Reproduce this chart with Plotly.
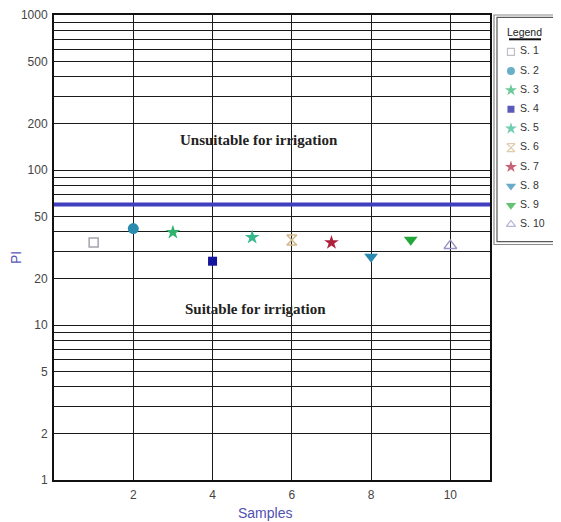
import plotly.graph_objects as go

# ---------------- data ----------------
samples = [1, 2, 3, 4, 5, 6, 7, 8, 9, 10]
sample_names = ["S. 1", "S. 2", "S. 3", "S. 4", "S. 5", "S. 6", "S. 7", "S. 8", "S. 9", "S. 10"]
pi_values = [34.1, 41.9, 39.6, 25.8, 36.8, 35.3, 34.0, 27.6, 35.5, 32.5]
threshold_pi = 60

y_tick_vals = [1, 2, 3, 4, 5, 6, 7, 8, 9,
               10, 20, 30, 40, 50, 60, 70, 80, 90,
               100, 200, 300, 400, 500, 600, 700, 800, 900, 1000]
y_tick_labels = ["1", "2", "", "", "5", "", "", "", "",
                 "10", "20", "", "", "50", "", "", "", "",
                 "100", "200", "", "", "500", "", "", "", "", "1000"]
x_tick_vals = [2, 4, 6, 8, 10]
x_tick_labels = ["2", "4", "6", "8", "10"]

# ---------------- styles ----------------
symbols = ["square-open", "circle", "star", "square", "star",
           "hourglass-open", "star", "triangle-down", "triangle-down", "triangle-up-open"]
colors = ["#a4a4ac", "#2a8db0", "#2fb36c", "#14149e", "#38b88e",
          "#d2b88a", "#b0203c", "#2a88b0", "#22a83a", "#9a94c4"]
sizes = [9, 11, 11, 9, 11, 10, 11, 12, 12, 11]
legend_sizes = [7, 8, 9, 7, 9, 8, 9, 9, 9, 8]

FONT = "Arial, Liberation Sans, sans-serif"
SERIF = "Liberation Serif, Times New Roman, serif"

# page has an 8px body margin: build the figure 8px smaller and shift margins
OFF = 8
W, H = 561 - OFF, 522 - OFF
ML, MT, MB = 54 - OFF, 15 - OFF, 42
PLOT_R = 490            # page px of the right plot border
PW = W - ML             # paper width (right margin 0) -> page 54..561
PH = H - MT - MB        # paper height -> page 15..480


def px_x(p):
    """page pixel x -> paper x"""
    return (p - 54) / PW


def px_y(p):
    """page pixel y -> paper y"""
    return (480 - p) / PH


fig = go.Figure()

for i, s in enumerate(samples):
    fig.add_trace(go.Scatter(
        x=[s], y=[pi_values[i]], mode="markers", name=sample_names[i],
        showlegend=False,
        marker=dict(symbol=symbols[i], color=colors[i], size=sizes[i],
                    line=dict(color=colors[i], width=1.5 if "open" in symbols[i] else 0)),
        xaxis="x", yaxis="y",
    ))

# legend (glyphs + names), drawn on its own small axes
fig.add_trace(go.Scatter(
    x=[0.23] * len(samples), y=samples, mode="markers", showlegend=False,
    marker=dict(symbol=symbols, color=colors, size=legend_sizes,
                line=dict(color=colors, width=[1.2 if "open" in s else 0 for s in symbols])),
    xaxis="x2", yaxis="y2", hoverinfo="skip",
))
fig.add_trace(go.Scatter(
    x=[0.38] * len(samples), y=samples, mode="text", text=sample_names,
    textposition="middle right", showlegend=False,
    textfont=dict(family=FONT, size=10.5, color="#333333"),
    xaxis="x2", yaxis="y2", hoverinfo="skip",
))

shapes = [
    # threshold line
    dict(type="line", xref="x domain", yref="y", x0=0, x1=1,
         y0=threshold_pi, y1=threshold_pi, line=dict(color="#3f3fc0", width=4)),
    # legend outer / inner frame
    dict(type="rect", xref="paper", yref="paper",
         x0=px_x(494), x1=px_x(560.3), y0=px_y(244.5), y1=px_y(15),
         line=dict(color="#8a8a8a", width=1.2)),
    dict(type="rect", xref="paper", yref="paper",
         x0=px_x(497), x1=px_x(557.7), y0=px_y(241.7), y1=px_y(17.3),
         line=dict(color="#5a5a5a", width=1.2)),
    # legend title underline
    dict(type="line", xref="paper", yref="paper",
         x0=px_x(509), x1=px_x(541), y0=px_y(39.3), y1=px_y(39.3),
         line=dict(color="#111111", width=2)),
]

annotations = [
    dict(text="<b>Unsuitable for irrigation</b>", x=5.18, y=2.194, xref="x", yref="y",
         showarrow=False, xanchor="center", yanchor="middle",
         font=dict(family=SERIF, size=15, color="#222222")),
    dict(text="<b>Suitable for irrigation</b>", x=5.08, y=1.103, xref="x", yref="y",
         showarrow=False, xanchor="center", yanchor="middle",
         font=dict(family=SERIF, size=15, color="#222222")),
    dict(text="Legend", x=px_x(524.5), y=px_y(31.5), xref="paper", yref="paper",
         showarrow=False, xanchor="center", yanchor="middle",
         font=dict(family=FONT, size=10.5, color="#222222")),
    dict(text="PI", x=px_x(16), y=px_y(258), xref="paper", yref="paper",
         showarrow=False, textangle=-90, xanchor="center", yanchor="middle",
         font=dict(family=FONT, size=14, color="#5a5ab8")),
    dict(text="Samples", x=px_x(265), y=px_y(512.7), xref="paper", yref="paper",
         showarrow=False, xanchor="center", yanchor="middle",
         font=dict(family=FONT, size=14, color="#5050b0")),
]

fig.update_layout(
    width=W, height=H,
    margin=dict(l=ML, r=0, t=MT, b=MB, autoexpand=False),
    paper_bgcolor="white", plot_bgcolor="white",
    font=dict(family=FONT, size=12, color="#333333"),
    showlegend=False,
    xaxis=dict(
        domain=[0, px_x(PLOT_R)], range=[0, 11],
        tickvals=x_tick_vals, ticktext=x_tick_labels, ticks="",
        showgrid=True, gridcolor="#1a1a1a", gridwidth=1, zeroline=False,
        showline=True, linecolor="#111111", linewidth=2, mirror=True,
        tickfont=dict(family=FONT, size=12, color="#444444"),
        ticklabelstandoff=3,
    ),
    yaxis=dict(
        type="log", range=[0, 3],
        tickvals=y_tick_vals, ticktext=y_tick_labels, ticks="",
        showgrid=True, gridcolor="#1a1a1a", gridwidth=1, zeroline=False,
        showline=True, linecolor="#111111", linewidth=2, mirror=True,
        tickfont=dict(family=FONT, size=12, color="#444444"),
        ticklabelstandoff=2,
    ),
    xaxis2=dict(domain=[px_x(497), px_x(557.7)], range=[0, 1], visible=False,
                anchor="y2", fixedrange=True),
    yaxis2=dict(domain=[px_y(241.7), px_y(17.3)], range=[10.9, -0.8], visible=False,
                anchor="x2", fixedrange=True),
    shapes=shapes,
    annotations=annotations,
)

fig.write_html("out.html")
